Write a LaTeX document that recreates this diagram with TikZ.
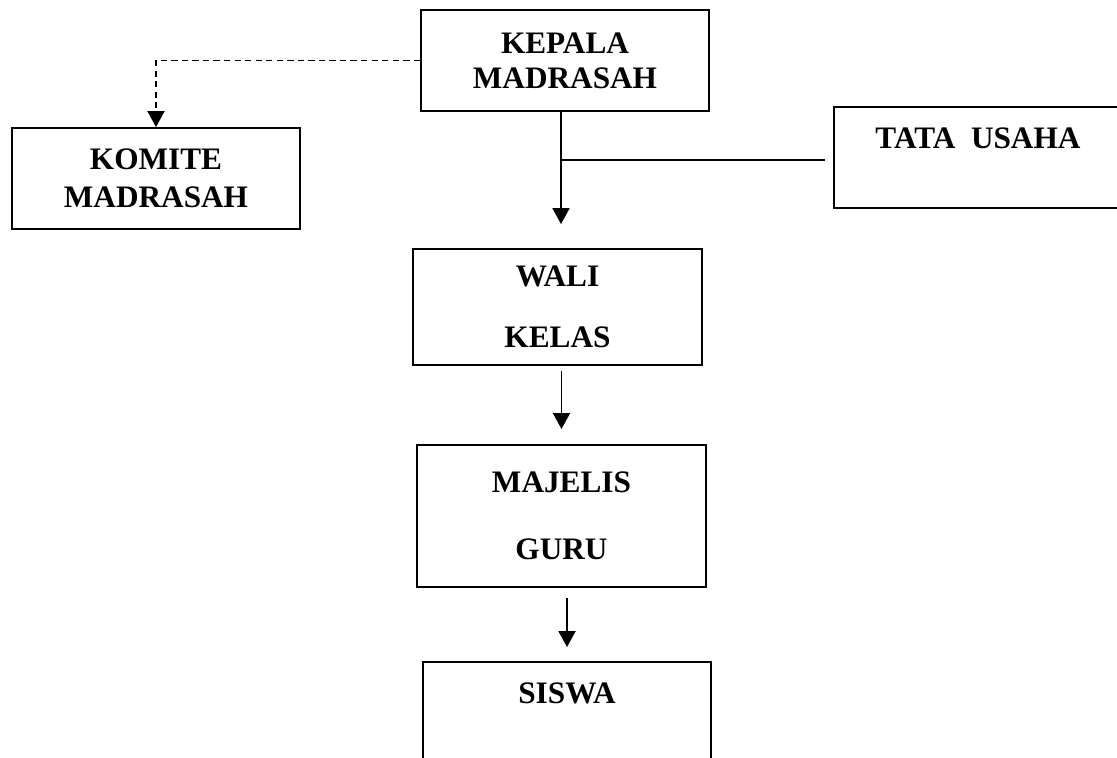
\documentclass[tikz,border=0pt]{standalone}
\usepackage{fontspec}
\setmainfont{Liberation Serif}
\usepackage{tikz}
\usetikzlibrary{arrows.meta}

\begin{document}
\begin{tikzpicture}[x=0.02cm, y=-0.02cm,
    every node/.style={font=\bfseries\fontsize{17.8}{20}\selectfont},
    box/.style={draw, line width=1.1pt, align=center, minimum width=5.76cm, minimum height=2.02cm, inner sep=0pt},
    topbox/.style={box, text height=23.5pt, text depth=34pt},
    arr/.style={line width=1.1pt, -{Triangle[width=0.34cm,length=0.32cm]}}]
  \useasboundingbox (0,0) rectangle (1117,758);
  \clip (0,0) rectangle (1117,758);
  % boxes
  \node[box] (kepala) at (565,60.5) {KEPALA\\MADRASAH};
  \node[box] (komite) at (156,178.5) {KOMITE\\[1.6pt]MADRASAH};
  \node[topbox] (tata) at (978,157.5) {TATA\ \ USAHA};
  \node[box, minimum width=5.78cm, minimum height=2.32cm] (wali) at (557.5,307) {WALI\\[14.7pt]KELAS};
  \node[box, minimum width=5.78cm, minimum height=2.84cm] (majelis) at (561.5,516) {MAJELIS\\[18pt]GURU};
  \node[topbox] (siswa) at (567,712.5) {SISWA};
  % connectors
  \coordinate (j1) at (561,160);
  \draw[arr, shorten >=0.48cm] (kepala.south -| j1) -- (wali.north -| j1);
  \draw[line width=1.1pt, shorten >=0.16cm] (j1) -- (tata.west |- j1);
  \draw[arr, shorten <=0.1cm, shorten >=0.3cm] (wali.south -| majelis.north) -- (majelis.north);
  \draw[arr, shorten <=0.2cm, shorten >=0.28cm] (majelis.south -| siswa.north) -- (siswa.north);
  \draw[arr, dash pattern=on 3.6pt off 2.4pt] (kepala.west) -| (komite.north);
\end{tikzpicture}
\end{document}
